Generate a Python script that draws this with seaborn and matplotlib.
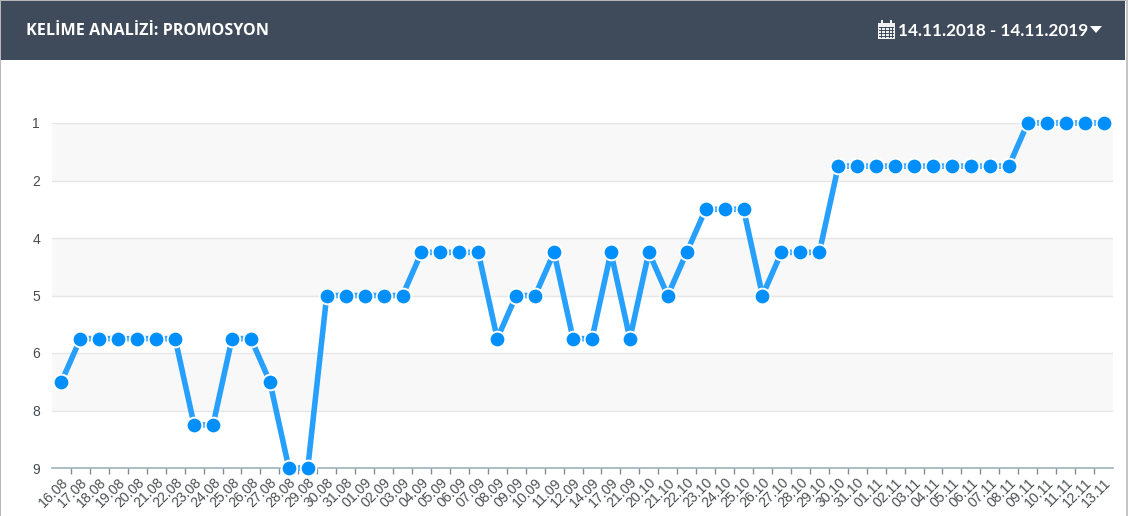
import seaborn as sns
import matplotlib.pyplot as plt
from matplotlib.patches import Rectangle, Polygon
import numpy as np

W, H = 1128, 516

dates = ['16.08', '17.08', '18.08', '19.08', '20.08', '21.08', '22.08', '23.08',
         '24.08', '25.08', '26.08', '27.08', '28.08', '29.08', '30.08', '31.08',
         '01.09', '02.09', '03.09', '04.09', '05.09', '06.09', '07.09', '08.09',
         '09.09', '10.09', '11.09', '12.09', '14.09', '17.09', '21.09', '20.10',
         '21.10', '22.10', '23.10', '24.10', '25.10', '26.10', '27.10', '28.10',
         '29.10', '30.10', '31.10', '01.11', '02.11', '03.11', '04.11', '05.11',
         '06.11', '07.11', '08.11', '09.11', '10.11', '11.11', '12.11', '13.11']
ranks = [7, 6, 6, 6, 6, 6, 6, 8, 8, 6, 6, 7, 9, 9, 5, 5, 5, 5, 5, 4, 4, 4, 4, 6,
         5, 5, 4, 6, 6, 4, 6, 4, 5, 4, 3, 3, 3, 5, 4, 4, 4, 2, 2, 2, 2, 2, 2, 2,
         2, 2, 2, 1, 1, 1, 1, 1]
y_ticks = np.linspace(1, 9, 7)
y_labels = ['1', '2', '4', '5', '6', '8', '9']

title = 'KELİME ANALİZİ: PROMOSYON'
date_range = '14.11.2018 - 14.11.2019'

sns.set_theme(style='white')
plt.rcParams['font.family'] = ['Liberation Sans', 'DejaVu Sans']

fig = plt.figure(figsize=(W / 100, H / 100), dpi=100, facecolor='white')
# axes box in pixels: x 52-1113, y 123-468
ax = fig.add_axes([52 / W, 1 - 468 / H, (1113 - 52) / W, (468 - 123) / H])

# alternating bands
for i in [0, 2, 4]:
    ax.axhspan(y_ticks[i], y_ticks[i + 1], color='#f8f8f8', lw=0, zorder=0)
for t in y_ticks[:-1]:
    ax.axhline(t, color='#e6e6e6', lw=1, zorder=1)

sns.lineplot(x=dates, y=ranks, sort=False, ax=ax, color='#26a0fc', linewidth=4,
             marker='o', markersize=11.3, markerfacecolor='#008ffb',
             markeredgecolor='white', markeredgewidth=1.4, clip_on=False,
             errorbar=None, zorder=3)

ax.set_xlim(-0.5, len(dates) - 0.5)
ax.set_ylim(9, 1)
ax.set_xlabel('')
ax.set_ylabel('')
ax.set_yticks(y_ticks)
ax.set_yticklabels(y_labels, fontsize=10, color='#444b4f', ha='center')
ax.set_xticks(np.arange(len(dates)))
ax.set_xticklabels(dates, fontsize=10.2, color='#4a5053', rotation=45, ha='right',
                   rotation_mode='anchor')
ax.set_xticks(np.arange(len(dates) - 1) + 0.5, minor=True)
ax.tick_params(axis='x', which='major', length=0, pad=5.5)
ax.tick_params(axis='x', which='minor', bottom=True, length=4.4, width=1,
               color='#78909c', direction='out')
ax.tick_params(axis='y', length=0, pad=11.5)

for name in ['top', 'left', 'right']:
    ax.spines[name].set_visible(False)
ax.spines['bottom'].set_color('#9fb0bb')
ax.spines['bottom'].set_linewidth(1.2)
ax.patch.set_alpha(0)

# page header, drawn in pixel coords on the figure
def px_rect(x, y, w, h, color):
    fig.add_artist(Rectangle((x / W, 1 - (y + h) / H), w / W, h / H, color=color,
                             lw=0, transform=fig.transFigure))

px_rect(1, 1, 1124, 59, '#3f4b5b')
px_rect(0, 0, 1128, 1, '#b5b5b5')
px_rect(0, 0, 1, H, '#b8b8b8')
px_rect(1126, 0, 2, H, '#c4c4c4')

fig.text(26 / W, 1 - 31 / H, title, color='white', fontsize=11.6, fontweight='bold',
         family=['Open Sans', 'DejaVu Sans'], va='center', ha='left')
fig.text(898 / W, 1 - 31 / H, date_range, color='white', fontsize=12.3, fontweight='bold',
         family=['Lato', 'DejaVu Sans'], va='center', ha='left')

# calendar icon
px_rect(878, 23, 17, 16, '#eef0f2')
px_rect(881, 20, 2, 4, '#eef0f2')
px_rect(890, 20, 2, 4, '#eef0f2')
for gx in [881, 885, 889, 892]:
    px_rect(gx, 27, 1, 11, '#3f4b5b')
for gy in [27, 30, 33, 36]:
    px_rect(879, gy, 15, 1, '#3f4b5b')

# dropdown arrow
fig.add_artist(Polygon([(1090 / W, 1 - 26 / H), (1102 / W, 1 - 26 / H), (1096 / W, 1 - 33 / H)],
                       closed=True, color='white', lw=0, transform=fig.transFigure))

fig.savefig('out.png', dpi=100)
